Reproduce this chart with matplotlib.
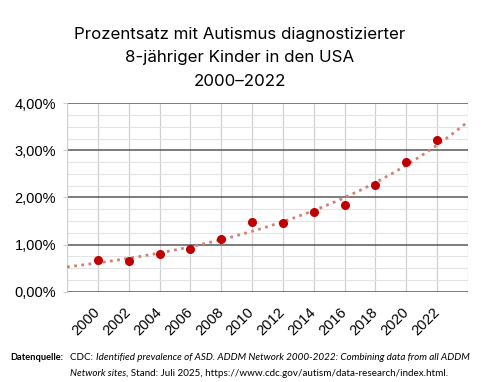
import numpy as np
import matplotlib
matplotlib.use("Agg")
import matplotlib.pyplot as plt
from matplotlib.ticker import MultipleLocator, FuncFormatter

years = ["2000", "2002", "2004", "2006", "2008", "2010",
         "2012", "2014", "2016", "2018", "2020", "2022"]
prevalence = [0.67, 0.66, 0.80, 0.90, 1.13, 1.47,
              1.45, 1.69, 1.85, 2.27, 2.76, 3.22]

title = "Prozentsatz mit Autismus diagnostizierter\n8-jähriger Kinder in den USA\n2000–2022"

x = np.arange(1, len(years) + 1)
y = np.array(prevalence)

# exponential trend line like excel, one period forecast both ways
b, ln_a = np.polyfit(x, np.log(y), 1)
xt = np.linspace(0, len(years) + 1, 200)
yt = np.exp(ln_a) * np.exp(b * xt)

fig = plt.figure(figsize=(5, 3.82), dpi=100)
ax = fig.add_axes([0.134, 0.236, 0.802, 0.494])

ax.set_xlim(0, len(years) + 1)
ax.set_ylim(0, 4)

ax.yaxis.set_major_locator(MultipleLocator(1))
ax.yaxis.set_minor_locator(MultipleLocator(0.25))
ax.yaxis.set_major_formatter(FuncFormatter(lambda v, p: f"{v:.2f}%".replace(".", ",")))
ax.set_xticks(range(0, len(years) + 2))
ax.set_xticklabels([""] + years + [""])

ax.grid(axis="y", which="major", color="#595959", lw=1.1, zorder=1)
ax.grid(axis="y", which="minor", color="#e3e3e3", lw=0.8, zorder=0)
ax.grid(axis="x", which="major", color="#d0d0d0", lw=0.9, zorder=0)

for s in ["top", "right", "bottom"]:
    ax.spines[s].set_visible(False)
ax.spines["left"].set_color("#d0d0d0")

ax.tick_params(axis="y", which="major", length=3, color="#d0d0d0",
               labelsize=10.5, pad=5)
ax.tick_params(axis="y", which="minor", length=0)
ax.tick_params(axis="x", length=0, pad=13, labelsize=10.5)
for lab in ax.get_yticklabels():
    lab.set_family("Liberation Sans")
for lab in ax.get_xticklabels():
    lab.set_family("Liberation Sans")
    lab.set_rotation(45)
    lab.set_ha("right")
    lab.set_va("center")
    lab.set_rotation_mode("anchor")

ax.plot(xt, yt, ls=(0, (1, 1.6)), color="#cf8274", lw=2, zorder=3)
ax.plot(x, y, "o", color="#c00000", ms=5.5, zorder=4)

fig.text(0.48, 0.93, title, ha="center", va="top", fontsize=12.2,
         family="Inter", linespacing=1.7)

# source line, drawn piece by piece so the italic parts fit
fig.canvas.draw()
r = fig.canvas.get_renderer()


def run(parts, x0, ypos, size):
    xp = x0
    for txt, style, weight in parts:
        t = fig.text(xp, ypos, txt, fontsize=size, family="Lato",
                     style=style, weight=weight, va="baseline")
        bb = t.get_window_extent(renderer=r)
        xp = xp + bb.width / fig.bbox.width


run([("Datenquelle:", "normal", "bold")], 0.02, 0.058, 6.7)
run([("CDC: ", "normal", "normal"),
     ("Identified prevalence of ASD. ADDM Network 2000-2022: Combining data from all ADDM", "italic", "normal")],
    0.14, 0.058, 7.1)
run([("Network sites", "italic", "normal"),
     (", Stand: Juli 2025, https://www.cdc.gov/autism/data-research/index.html.", "normal", "normal")],
    0.14, 0.016, 7.1)

fig.savefig("out.png", dpi=100, facecolor="white")
